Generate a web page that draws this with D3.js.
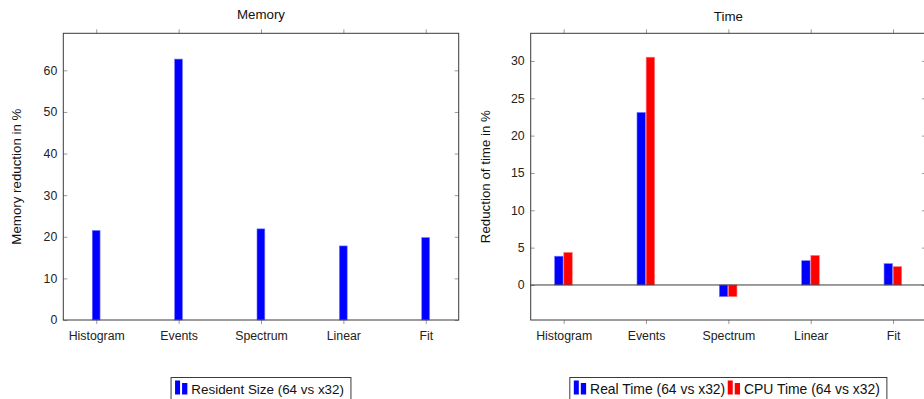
<!DOCTYPE html>
<html>
<head>
<meta charset="utf-8">
<script src="https://cdn.jsdelivr.net/npm/d3@7"></script>
<style>
  html, body { margin: 0; padding: 0; background: #fff; }
  svg { display: block; font-family: "Liberation Sans", Arial, sans-serif; }
</style>
</head>
<body>
<svg id="chart" width="924" height="399"></svg>
<script>
// ---- data ----
const categories = ["Histogram", "Events", "Spectrum", "Linear", "Fit"];
const residentSize = [21.5, 62.7, 21.9, 17.8, 19.8];
const realTime = [3.85, 23.1, -1.55, 3.25, 2.85];
const cpuTime = [4.35, 30.5, -1.55, 3.95, 2.45];
const memoryTicks = [0, 10, 20, 30, 40, 50, 60];
const timeTicks = [0, 5, 10, 15, 20, 25, 30];
const memorySeries = [{ name: "Resident Size (64 vs x32)", values: residentSize, color: "#0000ff" }];
const timeSeries = [
  { name: "Real Time (64 vs x32)", values: realTime, color: "#0000ff" },
  { name: "CPU Time (64 vs x32)", values: cpuTime, color: "#ff0000" }
];

const svg = d3.select("#chart");
const FRAME = "#3a3a3a", TICK = "#9a9a9a";

function panel(opt) {
  const { left, right, top, bottom } = opt;
  const g = svg.append("g");
  const x = d3.scaleLinear().domain([-0.4, categories.length - 1 + 0.4]).range([left, right]);
  const y = d3.scaleLinear().domain(opt.yDomain).range([bottom, top]);
  const idx = categories.map((_, i) => i);

  const ax = (sel) => sel.selectAll(".tick line").attr("stroke", TICK);
  g.append("g").attr("transform", `translate(${left},0)`)
    .call(d3.axisLeft(y).tickValues(opt.yTicks).tickSizeInner(-4).tickSizeOuter(0).tickPadding(6))
    .call(s => s.select(".domain").remove()).call(ax)
    .call(s => s.selectAll("text").attr("font-size", 12.3).attr("fill", "#222").attr("font-family", null));
  g.append("g").attr("transform", `translate(${right},0)`)
    .call(d3.axisRight(y).tickValues(opt.yTicks).tickSizeInner(-4).tickSizeOuter(0).tickFormat(""))
    .call(s => s.select(".domain").remove()).call(ax);
  g.append("g").attr("transform", `translate(0,${bottom})`)
    .call(d3.axisBottom(x).tickValues(idx).tickSizeInner(4).tickSizeOuter(0).tickPadding(7.3).tickFormat(i => categories[i]))
    .call(s => s.select(".domain").remove()).call(ax)
    .call(s => s.selectAll("text").attr("font-size", 12.3).attr("fill", "#222").attr("font-family", null));
  g.append("g").attr("transform", `translate(0,${top})`)
    .call(d3.axisTop(x).tickValues(idx).tickSizeInner(4).tickSizeOuter(0).tickFormat(""))
    .call(s => s.select(".domain").remove()).call(ax);

  const band = d3.scaleBand().domain(opt.series.map(s => s.name)).range(opt.barRange).paddingInner(opt.barGap);
  opt.series.forEach(s => {
    g.append("g").selectAll("rect").data(s.values).join("rect")
      .attr("x", (d, i) => x(i) + band(s.name))
      .attr("width", band.bandwidth())
      .attr("y", d => y(Math.max(0, d)))
      .attr("height", d => Math.abs(y(d) - y(0)))
      .attr("fill", s.color)
      .attr("stroke", d3.interpolateRgb(s.color, "#fff")(0.45))
      .attr("stroke-width", 0.6);
  });

  if (opt.yDomain[0] < 0) {
    g.append("line").attr("x1", left).attr("x2", right).attr("y1", y(0)).attr("y2", y(0))
      .attr("stroke", FRAME).attr("stroke-width", 1);
  }

  g.append("rect").attr("x", left).attr("y", top).attr("width", right - left).attr("height", bottom - top)
    .attr("fill", "none").attr("stroke", FRAME).attr("stroke-width", 1);

  const cx = x((categories.length - 1) / 2);
  g.append("text").attr("x", cx).attr("y", opt.titleY).attr("text-anchor", "middle")
    .attr("font-size", 13.3).attr("fill", "#111").text(opt.title);
  g.append("text").attr("transform", `translate(${opt.yLabelX},${(top + bottom) / 2}) rotate(-90)`)
    .attr("text-anchor", "middle").attr("dy", "0.35em").attr("font-size", 13.3).attr("fill", "#111").text(opt.yLabel);

  const lg = g.append("g");
  const baseY = 393.5, pad = 4, iconW = 12.5, gapT = 3.8, itemGap = 2.5, endPad = 7;
  const items = [];
  opt.series.forEach((s) => {
    const it = lg.append("g");
    it.append("rect").attr("x", 0).attr("y", baseY + 1 - 14).attr("width", 5).attr("height", 14).attr("fill", s.color);
    it.append("rect").attr("x", 7).attr("y", baseY + 1 - 11.5).attr("width", 5.3).attr("height", 11.5).attr("fill", s.color);
    const t = it.append("text").attr("x", iconW + gapT).attr("y", baseY).attr("font-size", opt.legendFont).attr("fill", "#111").text(s.name);
    const w = iconW + gapT + t.node().getComputedTextLength();
    items.push({ it, w });
  });
  const total = pad + d3.sum(items, d => d.w) + itemGap * (items.length - 1) + endPad;
  const bx = cx - total / 2;
  let cur = bx + pad;
  items.forEach(d => { d.it.attr("transform", `translate(${cur},0)`); cur += d.w + itemGap; });
  lg.insert("rect", ":first-child").attr("x", bx).attr("y", 377.5).attr("width", total).attr("height", 30)
    .attr("fill", "#fff").attr("stroke", FRAME).attr("stroke-width", 1);
}

panel({
  left: 63.3, right: 458.7, top: 33.3, bottom: 320,
  yDomain: [0, 68.9], yTicks: memoryTicks,
  series: memorySeries, barRange: [-4, 3.8], barGap: 0, legendFont: 13.4,
  title: "Memory", titleY: 18.5, yLabel: "Memory reduction in %", yLabelX: 16.5
});
panel({
  left: 530.7, right: 926, top: 33.3, bottom: 320,
  yDomain: [-4.69, 33.7], yTicks: timeTicks,
  series: timeSeries, barRange: [-9, 8.6], barGap: 0.08, legendFont: 13.9,
  title: "Time", titleY: 20.5, yLabel: "Reduction of time in %", yLabelX: 485
});
</script>
</body>
</html>
